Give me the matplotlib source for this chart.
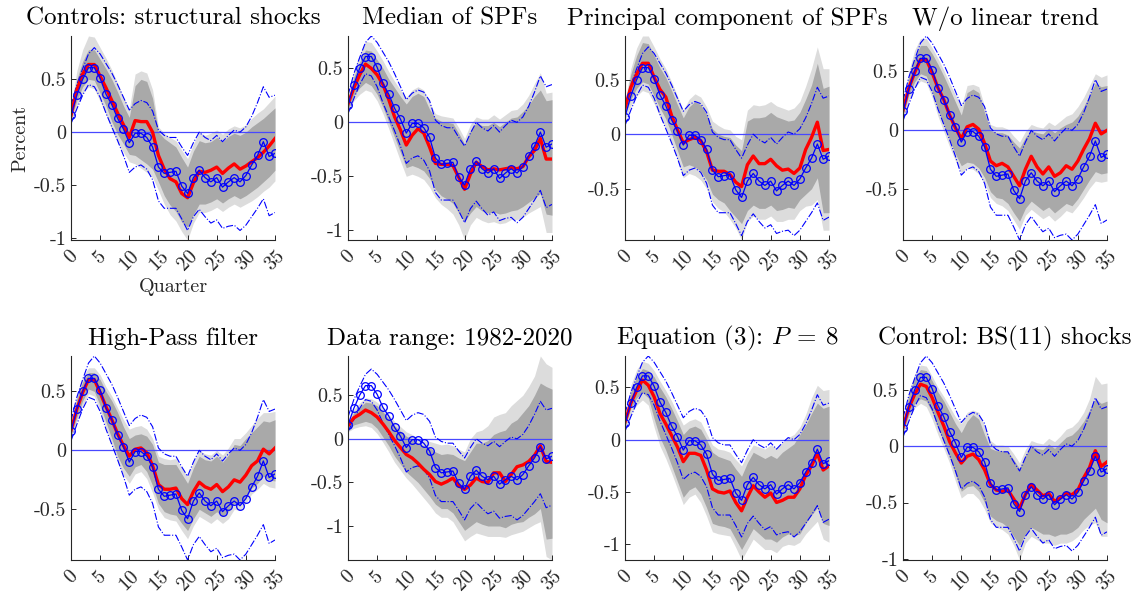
import matplotlib
matplotlib.use("Agg")
import matplotlib.pyplot as plt
from matplotlib.ticker import MultipleLocator, FuncFormatter

plt.rcParams["font.family"] = "serif"
plt.rcParams["font.serif"] = ["cmr10", "DejaVu Serif"]
plt.rcParams["mathtext.fontset"] = "cm"
plt.rcParams["axes.unicode_minus"] = False

quarters = list(range(36))

# baseline response (blue circles) and its bands (dash-dot)
base = [0.16, 0.35, 0.50, 0.61, 0.61, 0.51, 0.36, 0.26, 0.13, 0.03, -0.10, -0.01, -0.01, -0.05, -0.14, -0.33,
        -0.39, -0.38, -0.37, -0.51, -0.58, -0.43, -0.36, -0.43, -0.47, -0.43, -0.52, -0.47, -0.43, -0.47, -0.41,
        -0.31, -0.22, -0.09, -0.23, -0.20]
base_hi = [0.25, 0.45, 0.60, 0.74, 0.80, 0.74, 0.65, 0.56, 0.45, 0.33, 0.21, 0.27, 0.30, 0.28, 0.20, 0.02,
           -0.03, -0.05, -0.05, -0.14, -0.22, -0.10, 0.00, -0.05, -0.08, -0.03, -0.09, -0.03, 0.02, 0.00, 0.05,
           0.15, 0.28, 0.43, 0.33, 0.35]
base_lo = [0.08, 0.22, 0.35, 0.45, 0.43, 0.33, 0.18, 0.05, -0.08, -0.22, -0.38, -0.33, -0.31, -0.35, -0.45, -0.65,
           -0.72, -0.72, -0.72, -0.82, -0.93, -0.80, -0.73, -0.80, -0.86, -0.83, -0.91, -0.89, -0.88, -0.93, -0.88,
           -0.80, -0.72, -0.63, -0.79, -0.76]

titles = ["Controls: structural shocks", "Median of SPFs", "Principal component of SPFs", "W/o linear trend",
          "High-Pass filter", "Data range: 1982-2020", r"Equation (3): $P\:=\:8$", "Control: BS(11) shocks"]

# alternative specification (red) with 68% (dark) and 90% (light) bands
red1 = [0.16, 0.40, 0.55, 0.64, 0.64, 0.53, 0.42, 0.30, 0.18, 0.07, -0.05, 0.11, 0.10, 0.10, 0.00, -0.22, -0.35,
        -0.44, -0.47, -0.58, -0.62, -0.48, -0.37, -0.38, -0.36, -0.33, -0.39, -0.34, -0.30, -0.35, -0.32, -0.28,
        -0.24, -0.19, -0.13, -0.06]
dhi1 = [0.21, 0.50, 0.67, 0.78, 0.78, 0.69, 0.60, 0.50, 0.38, 0.25, 0.14, 0.44, 0.50, 0.48, 0.32, 0.00, -0.06,
        -0.10, -0.14, -0.24, -0.33, -0.18, -0.08, -0.10, -0.09, -0.05, -0.09, -0.04, -0.01, -0.03, 0.00, 0.05,
        0.09, 0.13, 0.18, 0.23]
lhi1 = [0.24, 0.58, 0.78, 0.91, 0.90, 0.80, 0.70, 0.59, 0.46, 0.33, 0.22, 0.55, 0.58, 0.56, 0.40, 0.05, -0.01,
        -0.05, -0.08, -0.17, -0.25, -0.11, 0.00, -0.03, -0.01, 0.02, -0.02, 0.03, 0.06, 0.04, 0.07, 0.13, 0.18,
        0.22, 0.28, 0.34]
dlo1 = [0.12, 0.30, 0.43, 0.50, 0.49, 0.37, 0.25, 0.10, -0.02, -0.11, -0.21, -0.22, -0.26, -0.30, -0.35, -0.47,
        -0.60, -0.69, -0.75, -0.85, -0.90, -0.78, -0.68, -0.68, -0.66, -0.63, -0.67, -0.63, -0.60, -0.63, -0.60,
        -0.56, -0.52, -0.47, -0.42, -0.36]
llo1 = [0.09, 0.25, 0.37, 0.43, 0.41, 0.29, 0.17, 0.02, -0.10, -0.19, -0.28, -0.30, -0.34, -0.38, -0.43, -0.55,
        -0.68, -0.78, -0.84, -0.94, -1.02, -0.86, -0.76, -0.76, -0.74, -0.71, -0.75, -0.71, -0.68, -0.71, -0.68,
        -0.65, -0.61, -0.56, -0.52, -0.46]

red2 = [0.17, 0.32, 0.44, 0.54, 0.50, 0.44, 0.35, 0.21, 0.05, -0.07, -0.21, -0.12, -0.06, -0.10, -0.23, -0.38,
        -0.39, -0.39, -0.40, -0.51, -0.62, -0.48, -0.37, -0.41, -0.44, -0.43, -0.44, -0.43, -0.42, -0.43, -0.41,
        -0.32, -0.26, -0.15, -0.34, -0.34]
dhi2 = [0.20, 0.42, 0.56, 0.67, 0.66, 0.58, 0.50, 0.40, 0.32, 0.24, 0.17, 0.24, 0.27, 0.24, 0.12, 0.04, 0.01,
        0.00, -0.01, -0.10, -0.20, -0.08, 0.00, -0.03, -0.03, 0.00, -0.04, 0.00, 0.04, 0.05, 0.10, 0.16, 0.24,
        0.30, 0.20, 0.21]
lhi2 = [0.23, 0.48, 0.63, 0.75, 0.74, 0.66, 0.57, 0.47, 0.38, 0.30, 0.23, 0.30, 0.33, 0.30, 0.18, 0.08, 0.06,
        0.05, 0.04, -0.05, -0.15, -0.02, 0.05, 0.03, 0.03, 0.07, 0.03, 0.07, 0.11, 0.12, 0.17, 0.25, 0.36, 0.46,
        0.27, 0.28]
dlo2 = [0.12, 0.25, 0.32, 0.37, 0.34, 0.26, 0.14, 0.00, -0.14, -0.28, -0.42, -0.40, -0.42, -0.45, -0.52, -0.62,
        -0.68, -0.71, -0.75, -0.84, -0.92, -0.84, -0.78, -0.82, -0.84, -0.83, -0.85, -0.84, -0.82, -0.81, -0.78,
        -0.74, -0.70, -0.66, -0.85, -0.86]
llo2 = [0.09, 0.20, 0.26, 0.30, 0.28, 0.20, 0.08, -0.06, -0.21, -0.36, -0.50, -0.48, -0.50, -0.53, -0.60, -0.70,
        -0.76, -0.80, -0.85, -0.95, -1.09, -0.95, -0.88, -0.91, -0.93, -0.92, -0.94, -0.93, -0.90, -0.90, -0.88,
        -0.84, -0.81, -0.78, -1.02, -1.02]

red3 = [0.24, 0.43, 0.55, 0.65, 0.65, 0.52, 0.41, 0.34, 0.17, 0.04, -0.08, -0.05, -0.03, -0.06, -0.16, -0.33,
        -0.34, -0.34, -0.37, -0.44, -0.48, -0.28, -0.20, -0.27, -0.27, -0.23, -0.29, -0.33, -0.32, -0.36, -0.31,
        -0.14, -0.03, 0.11, -0.15, -0.14]
dhi3 = [0.27, 0.55, 0.72, 0.84, 0.83, 0.72, 0.61, 0.52, 0.40, 0.27, 0.15, 0.25, 0.30, 0.27, 0.18, 0.05, 0.00,
        -0.02, -0.03, -0.10, -0.15, 0.12, 0.15, 0.15, 0.16, 0.20, 0.16, 0.14, 0.12, 0.13, 0.20, 0.32, 0.45, 0.65,
        0.42, 0.44]
lhi3 = [0.30, 0.60, 0.79, 0.90, 0.90, 0.80, 0.69, 0.60, 0.48, 0.35, 0.22, 0.32, 0.37, 0.34, 0.25, 0.12, 0.08,
        0.05, 0.04, -0.02, -0.05, 0.22, 0.27, 0.26, 0.27, 0.30, 0.26, 0.24, 0.22, 0.24, 0.30, 0.44, 0.60, 0.80,
        0.60, 0.60]
dlo3 = [0.18, 0.32, 0.42, 0.48, 0.46, 0.35, 0.24, 0.14, 0.00, -0.15, -0.30, -0.28, -0.30, -0.34, -0.42, -0.55,
        -0.60, -0.63, -0.70, -0.76, -0.82, -0.70, -0.65, -0.68, -0.68, -0.65, -0.70, -0.69, -0.67, -0.68, -0.60,
        -0.55, -0.50, -0.40, -0.72, -0.72]
llo3 = [0.13, 0.26, 0.35, 0.40, 0.38, 0.28, 0.16, 0.06, -0.08, -0.24, -0.40, -0.36, -0.38, -0.42, -0.50, -0.62,
        -0.68, -0.71, -0.78, -0.86, -0.97, -0.80, -0.75, -0.78, -0.78, -0.75, -0.80, -0.80, -0.78, -0.78, -0.70,
        -0.66, -0.65, -0.60, -0.88, -0.88]

red4 = [0.17, 0.36, 0.49, 0.60, 0.60, 0.49, 0.36, 0.26, 0.13, 0.02, -0.07, 0.03, 0.05, 0.01, -0.11, -0.26, -0.30,
        -0.28, -0.31, -0.39, -0.47, -0.33, -0.22, -0.31, -0.37, -0.31, -0.39, -0.36, -0.30, -0.33, -0.26, -0.16,
        -0.07, 0.06, -0.03, 0.00]
dhi4 = [0.20, 0.45, 0.62, 0.72, 0.72, 0.65, 0.56, 0.46, 0.35, 0.24, 0.13, 0.32, 0.35, 0.32, 0.15, 0.00, -0.02,
        -0.02, -0.04, -0.10, -0.15, -0.06, 0.00, -0.02, -0.03, 0.02, -0.02, 0.02, 0.05, 0.07, 0.12, 0.20, 0.30,
        0.40, 0.37, 0.38]
lhi4 = [0.22, 0.50, 0.68, 0.78, 0.78, 0.70, 0.61, 0.51, 0.40, 0.30, 0.20, 0.38, 0.39, 0.37, 0.20, 0.05, 0.03,
        0.03, 0.01, -0.05, -0.10, -0.01, 0.05, 0.03, 0.02, 0.07, 0.04, 0.08, 0.12, 0.14, 0.20, 0.28, 0.38, 0.48,
        0.45, 0.47]
dlo4 = [0.12, 0.30, 0.41, 0.48, 0.46, 0.33, 0.18, 0.05, -0.08, -0.20, -0.30, -0.27, -0.28, -0.32, -0.40, -0.52,
        -0.57, -0.58, -0.62, -0.70, -0.77, -0.66, -0.60, -0.64, -0.68, -0.65, -0.70, -0.66, -0.62, -0.64, -0.58,
        -0.50, -0.42, -0.35, -0.37, -0.36]
llo4 = [0.09, 0.25, 0.36, 0.42, 0.40, 0.28, 0.12, -0.01, -0.14, -0.26, -0.36, -0.32, -0.33, -0.37, -0.45, -0.57,
        -0.62, -0.64, -0.68, -0.76, -0.84, -0.72, -0.67, -0.71, -0.75, -0.72, -0.77, -0.73, -0.68, -0.70, -0.64,
        -0.57, -0.49, -0.43, -0.44, -0.43]

red5 = [0.17, 0.35, 0.49, 0.60, 0.60, 0.49, 0.37, 0.26, 0.14, 0.04, -0.05, 0.01, 0.02, -0.02, -0.13, -0.29, -0.33,
        -0.33, -0.32, -0.41, -0.46, -0.35, -0.27, -0.31, -0.33, -0.29, -0.35, -0.31, -0.25, -0.27, -0.21, -0.13,
        -0.09, 0.01, -0.03, 0.02]
dhi5 = [0.20, 0.44, 0.58, 0.66, 0.66, 0.60, 0.50, 0.42, 0.32, 0.20, 0.10, 0.13, 0.14, 0.12, 0.05, -0.10, -0.12,
        -0.12, -0.12, -0.20, -0.28, -0.15, -0.05, -0.08, -0.09, -0.05, -0.10, -0.04, 0.05, 0.04, 0.10, 0.15, 0.20,
        0.25, 0.24, 0.26]
lhi5 = [0.22, 0.48, 0.62, 0.70, 0.70, 0.64, 0.54, 0.46, 0.36, 0.26, 0.18, 0.20, 0.21, 0.18, 0.10, -0.05, -0.07,
        -0.08, -0.07, -0.15, -0.22, -0.10, 0.00, -0.03, -0.04, 0.00, -0.04, 0.02, 0.10, 0.10, 0.15, 0.21, 0.27,
        0.32, 0.32, 0.33]
dlo5 = [0.12, 0.28, 0.42, 0.52, 0.50, 0.38, 0.24, 0.10, -0.05, -0.15, -0.22, -0.14, -0.12, -0.18, -0.30, -0.45,
        -0.52, -0.54, -0.55, -0.62, -0.68, -0.58, -0.50, -0.53, -0.56, -0.52, -0.56, -0.52, -0.45, -0.46, -0.40,
        -0.32, -0.28, -0.22, -0.25, -0.26]
llo5 = [0.10, 0.25, 0.38, 0.48, 0.46, 0.34, 0.19, 0.05, -0.10, -0.21, -0.28, -0.20, -0.18, -0.24, -0.36, -0.50,
        -0.57, -0.59, -0.60, -0.68, -0.75, -0.64, -0.56, -0.59, -0.62, -0.58, -0.62, -0.58, -0.50, -0.51, -0.45,
        -0.37, -0.33, -0.28, -0.31, -0.32]

red6 = [0.15, 0.24, 0.28, 0.33, 0.30, 0.25, 0.17, 0.08, -0.02, -0.10, -0.18, -0.22, -0.28, -0.35, -0.41, -0.49,
        -0.52, -0.49, -0.45, -0.54, -0.58, -0.53, -0.45, -0.49, -0.50, -0.39, -0.39, -0.49, -0.41, -0.32, -0.30,
        -0.26, -0.19, -0.08, -0.26, -0.27]
dhi6 = [0.18, 0.30, 0.36, 0.42, 0.41, 0.38, 0.31, 0.23, 0.15, 0.09, 0.03, 0.00, -0.05, -0.08, -0.10, -0.15, -0.18,
        -0.17, -0.18, -0.22, -0.25, -0.15, -0.05, -0.05, -0.02, 0.05, 0.08, 0.10, 0.18, 0.22, 0.30, 0.38, 0.50,
        0.64, 0.60, 0.57]
lhi6 = [0.20, 0.34, 0.41, 0.47, 0.46, 0.42, 0.36, 0.28, 0.20, 0.14, 0.08, 0.05, 0.00, -0.02, -0.03, -0.05, -0.07,
        -0.06, -0.08, -0.12, -0.15, 0.00, 0.08, 0.10, 0.15, 0.25, 0.28, 0.30, 0.38, 0.44, 0.50, 0.60, 0.72, 0.95,
        0.86, 0.82]
dlo6 = [0.10, 0.16, 0.18, 0.20, 0.18, 0.12, 0.02, -0.08, -0.20, -0.29, -0.38, -0.44, -0.50, -0.58, -0.66, -0.75,
        -0.80, -0.80, -0.85, -0.95, -1.05, -1.00, -0.95, -0.98, -1.00, -1.00, -1.00, -1.02, -0.98, -0.96, -0.95,
        -0.90, -0.86, -0.80, -1.15, -1.14]
llo6 = [0.08, 0.12, 0.14, 0.15, 0.13, 0.06, -0.04, -0.15, -0.27, -0.36, -0.45, -0.52, -0.60, -0.68, -0.76, -0.85,
        -0.90, -0.90, -0.95, -1.06, -1.17, -1.12, -1.08, -1.10, -1.12, -1.12, -1.12, -1.13, -1.10, -1.08, -1.06,
        -1.02, -0.98, -0.95, -1.35, -1.39]

red7 = [0.17, 0.35, 0.47, 0.57, 0.52, 0.41, 0.25, 0.15, 0.04, -0.07, -0.21, -0.13, -0.13, -0.15, -0.29, -0.47,
        -0.50, -0.51, -0.49, -0.60, -0.68, -0.55, -0.44, -0.50, -0.55, -0.51, -0.60, -0.58, -0.55, -0.55, -0.47,
        -0.34, -0.25, -0.13, -0.29, -0.25]
dhi7 = [0.20, 0.46, 0.60, 0.68, 0.66, 0.60, 0.50, 0.41, 0.30, 0.18, 0.05, 0.11, 0.13, 0.10, 0.00, -0.12, -0.16,
        -0.18, -0.20, -0.28, -0.35, -0.22, -0.12, -0.15, -0.18, -0.15, -0.18, -0.12, -0.08, -0.04, 0.05, 0.14,
        0.25, 0.35, 0.30, 0.32]
lhi7 = [0.22, 0.52, 0.67, 0.75, 0.73, 0.66, 0.56, 0.47, 0.37, 0.25, 0.14, 0.18, 0.20, 0.17, 0.06, -0.05, -0.09,
        -0.10, -0.12, -0.19, -0.25, -0.14, -0.05, -0.07, -0.09, -0.05, -0.08, -0.03, 0.02, 0.05, 0.12, 0.24, 0.40,
        0.52, 0.47, 0.48]
dlo7 = [0.12, 0.30, 0.40, 0.45, 0.40, 0.20, 0.02, -0.10, -0.25, -0.40, -0.55, -0.48, -0.45, -0.52, -0.65, -0.80,
        -0.82, -0.83, -0.85, -0.95, -1.05, -0.95, -0.85, -0.90, -0.95, -0.95, -0.98, -0.93, -0.90, -0.92, -0.90,
        -0.80, -0.72, -0.65, -0.80, -0.82]
llo7 = [0.10, 0.25, 0.33, 0.38, 0.33, 0.12, -0.06, -0.18, -0.32, -0.47, -0.62, -0.55, -0.52, -0.60, -0.73, -0.88,
        -0.90, -0.91, -0.92, -1.03, -1.15, -1.05, -0.95, -1.00, -1.05, -1.05, -1.08, -1.02, -1.00, -1.01, -0.98,
        -0.90, -0.84, -0.78, -0.95, -0.98]

red8 = [0.17, 0.34, 0.46, 0.55, 0.53, 0.43, 0.30, 0.18, 0.04, -0.06, -0.15, -0.09, -0.07, -0.12, -0.21, -0.34,
        -0.39, -0.40, -0.39, -0.47, -0.55, -0.43, -0.34, -0.39, -0.44, -0.42, -0.49, -0.46, -0.42, -0.43, -0.39,
        -0.28, -0.19, -0.04, -0.18, -0.14]
dhi8 = [0.20, 0.45, 0.60, 0.68, 0.67, 0.58, 0.48, 0.40, 0.30, 0.20, 0.12, 0.22, 0.28, 0.24, 0.10, -0.02, -0.04,
        -0.04, -0.05, -0.12, -0.20, -0.08, 0.00, -0.02, -0.03, 0.02, -0.02, 0.03, 0.08, 0.10, 0.15, 0.22, 0.32,
        0.42, 0.38, 0.40]
lhi8 = [0.22, 0.49, 0.64, 0.72, 0.71, 0.62, 0.52, 0.44, 0.35, 0.26, 0.20, 0.30, 0.32, 0.30, 0.18, 0.05, 0.01,
        0.01, 0.00, -0.07, -0.15, -0.03, 0.05, 0.03, 0.02, 0.07, 0.04, 0.09, 0.15, 0.17, 0.22, 0.30, 0.42, 0.62,
        0.55, 0.56]
dlo8 = [0.12, 0.28, 0.38, 0.42, 0.40, 0.30, 0.16, 0.04, -0.10, -0.25, -0.40, -0.36, -0.35, -0.40, -0.50, -0.62,
        -0.66, -0.68, -0.72, -0.80, -0.88, -0.78, -0.72, -0.75, -0.78, -0.78, -0.80, -0.78, -0.78, -0.76, -0.72,
        -0.65, -0.60, -0.55, -0.65, -0.68]
llo8 = [0.10, 0.24, 0.34, 0.38, 0.35, 0.24, 0.10, -0.02, -0.15, -0.31, -0.46, -0.42, -0.42, -0.47, -0.56, -0.68,
        -0.72, -0.74, -0.78, -0.88, -1.01, -0.86, -0.80, -0.83, -0.86, -0.86, -0.88, -0.86, -0.86, -0.84, -0.80,
        -0.74, -0.70, -0.68, -0.80, -0.80]

reds = [red1, red2, red3, red4, red5, red6, red7, red8]
dark_hi = [dhi1, dhi2, dhi3, dhi4, dhi5, dhi6, dhi7, dhi8]
dark_lo = [dlo1, dlo2, dlo3, dlo4, dlo5, dlo6, dlo7, dlo8]
light_hi = [lhi1, lhi2, lhi3, lhi4, lhi5, lhi6, lhi7, lhi8]
light_lo = [llo1, llo2, llo3, llo4, llo5, llo6, llo7, llo8]

fig = plt.figure(figsize=(11.35, 5.96), dpi=100)
W, H = 1135, 596
col_left = [71, 348, 625, 903]
row_top = [36, 356]
ax_w, ax_h = 204, 204

axc = "#262626"
for i in range(8):
    r, c = divmod(i, 4)
    ax = fig.add_axes([col_left[c] / W, 1 - (row_top[r] + ax_h) / H, ax_w / W, ax_h / H])
    ax.fill_between(quarters, light_lo[i], light_hi[i], color="#dcdcdc", lw=0)
    ax.fill_between(quarters, dark_lo[i], dark_hi[i], color="#a9a9a9", lw=0)
    ax.axhline(0, color="#4848ff", lw=0.9)
    ax.plot(quarters, base_hi, "-.", color="blue", lw=0.8)
    ax.plot(quarters, base_lo, "-.", color="blue", lw=0.8)
    ax.plot(quarters, reds[i], color="red", lw=2.4)
    ax.plot(quarters, base, "-o", color="blue", lw=0.9, ms=5.5, mfc="none", mew=0.9)

    ax.set_xlim(0, 35)
    ax.margins(y=0)
    ax.autoscale(axis="y", tight=True)
    ax.xaxis.set_major_locator(MultipleLocator(5))
    ax.yaxis.set_major_locator(MultipleLocator(0.5))
    ax.yaxis.set_major_formatter(FuncFormatter(lambda v, p: "{:g}".format(round(v, 2) + 0.0)))
    ax.tick_params(direction="in", length=3.5, width=0.7, colors=axc, labelsize=14.5)
    ax.tick_params(axis="x", labelrotation=45, pad=5, labelsize=14.5)
    for s in ["top", "right"]:
        ax.spines[s].set_visible(False)
    for s in ["left", "bottom"]:
        ax.spines[s].set_color(axc)
        ax.spines[s].set_linewidth(0.8)
    ax.set_title(titles[i], fontsize=18, pad=8)
    if i == 0:
        ax.set_ylabel("Percent", fontsize=14.5, color=axc, labelpad=3)
        ax.set_xlabel("Quarter", fontsize=14.5, color=axc, labelpad=3)

fig.savefig("out.png", dpi=100)
